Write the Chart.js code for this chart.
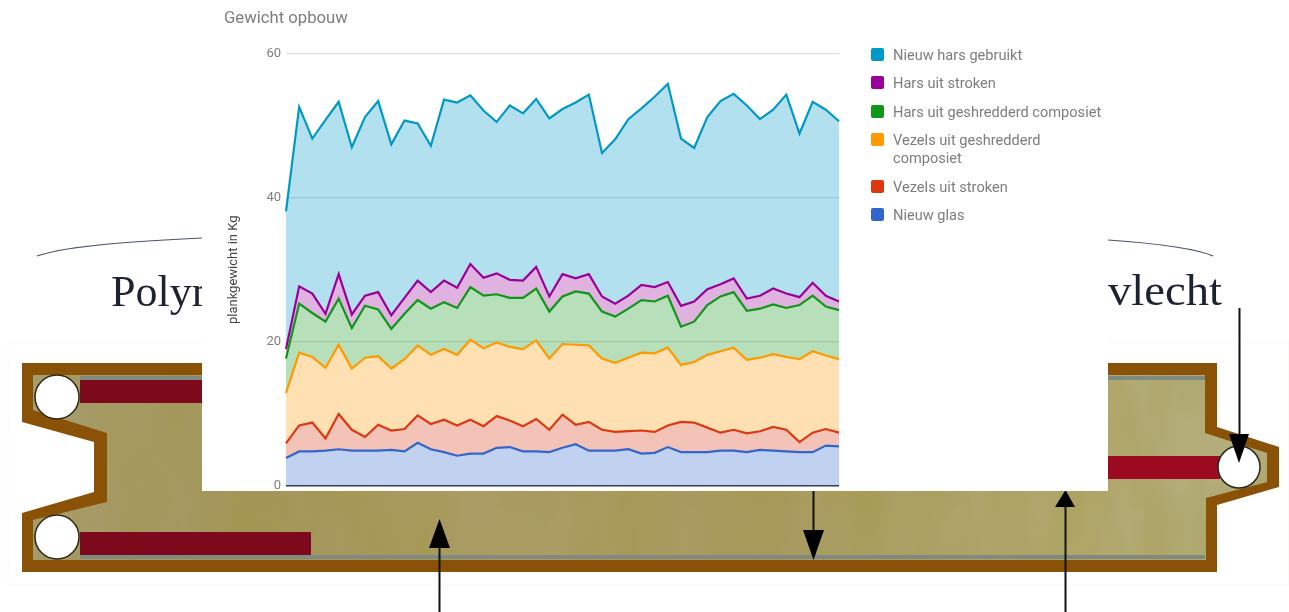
<!DOCTYPE html>
<html>
<head>
<meta charset="utf-8">
<title>Gewicht opbouw</title>
<script src="https://cdn.jsdelivr.net/npm/chart.js@4"></script>
<style>
html, body { margin: 0; padding: 0; background: #fff; overflow: hidden; }
#page { position: relative; width: 1289px; height: 612px; overflow: hidden; filter: blur(0.45px); }
#backdrop { position: absolute; left: 0; top: 0; }
#panel { position: absolute; left: 202px; top: 0; width: 906px; height: 491px; background: #fff; overflow: hidden; }
#legend { position: absolute; left: 669px; top: 46px; width: 233px; font: 14.6px Roboto, sans-serif; color: #7d7d7d; }
#legend div { position: relative; padding-left: 22px; margin-bottom: 10.4px; line-height: 18px; }
#legend i { position: absolute; left: 0; top: 2px; width: 13px; height: 13px; border-radius: 2px; }
</style>
</head>
<body>
<div id="page">
	<svg id="backdrop" width="1289" height="612" xmlns="http://www.w3.org/2000/svg">
		<defs>
			<linearGradient id="wood" x1="0" x2="1" y1="0" y2="0">
				<stop offset="0" stop-color="#a79d6e"/>
				<stop offset="0.2" stop-color="#a5965a"/>
				<stop offset="0.38" stop-color="#ab9d66"/>
				<stop offset="0.6" stop-color="#a89a5e"/>
				<stop offset="0.85" stop-color="#b2a96f"/>
				<stop offset="1" stop-color="#b4ae80"/>
			</linearGradient>
			<filter id="grain" x="0" y="0" width="100%" height="100%">
				<feTurbulence type="fractalNoise" baseFrequency="0.018 0.006" numOctaves="3" seed="4"/>
				<feColorMatrix type="matrix" values="0 0 0 0 0.35  0 0 0 0 0.3  0 0 0 0 0.05  1.6 0 0 0 -0.55"/>
			</filter>
			<clipPath id="woodClip">
				<path d="M33 375 H1205 V433 L1267 453 V482 L1206 498 V560 H33 V520 L107 502 V433 L33 410 Z"/>
			</clipPath>
		</defs>
		<path d="M37 256 C 70 245, 140 241, 202 238" fill="none" stroke="#4a5568" stroke-width="1.2"/>
		<path d="M1108 240 C 1150 243, 1195 248, 1213 256" fill="none" stroke="#4a5568" stroke-width="1.2"/>
		<text x="111" y="306" font-family="'Liberation Serif', serif" font-size="44" fill="#1c2230">Polym</text>
		<text x="1108" y="305" font-family="'Liberation Serif', serif" font-size="44" textLength="114" lengthAdjust="spacingAndGlyphs" fill="#1c2230">vlecht</text>
		<rect x="8" y="341" width="1281" height="244" fill="none" stroke="#f7f7f4"/>
		<path d="M22 363 H1217 V427 L1279 447 V487 L1217 505 V572 H22 V513 L94 492 V442 L22 422 Z" fill="#8a5206"/>
		<path d="M33 375 H1205 V433 L1267 453 V482 L1206 498 V560 H33 V520 L107 502 V433 L33 410 Z" fill="url(#wood)"/>
		<g clip-path="url(#woodClip)"><rect x="33" y="375" width="1234" height="185" filter="url(#grain)" opacity="0.45"/></g>
		<rect x="80" y="376" width="1125" height="4" fill="#7f8a80"/>
		<rect x="80" y="555" width="1125" height="4" fill="#7f8a80"/>
		<rect x="80" y="380" width="130" height="23" fill="#7c0a1c"/>
		<rect x="80" y="532" width="231" height="23" fill="#7c0a1c"/>
		<rect x="1100" y="456" width="120" height="23" fill="#9b0a20"/>
		<circle cx="57" cy="397" r="22" fill="#fff" stroke="#2a2a1a" stroke-width="1.5"/>
		<circle cx="57" cy="537" r="22" fill="#fff" stroke="#2a2a1a" stroke-width="1.5"/>
		<circle cx="1239" cy="467" r="21" fill="#fff" stroke="#2a2a1a" stroke-width="1.5"/>
		<path d="M1239.5 308 V440" stroke="#111" stroke-width="2"/>
		<path d="M1229 434 H1249 L1239 463 Z" fill="#000"/>
		<path d="M439.5 612 V530" stroke="#111" stroke-width="2"/>
		<path d="M429 548 H450 L439.5 519 Z" fill="#000"/>
		<path d="M813.5 490 V540" stroke="#111" stroke-width="2"/>
		<path d="M803 530 H824 L813.5 560 Z" fill="#000"/>
		<path d="M1065.5 612 V500" stroke="#111" stroke-width="2"/>
		<path d="M1055 507 H1075 L1065.5 490 Z" fill="#000"/>
	</svg>
	<div id="panel">
		<canvas id="chart" width="906" height="491"></canvas>
		<div id="legend"></div>
	</div>
</div>
<script>
var categories = [1,2,3,4,5,6,7,8,9,10,11,12,13,14,15,16,17,18,19,20,21,22,23,24,25,26,27,28,29,30,31,32,33,34,35,36,37,38,39,40,41,42,43];

var nieuwGlas = [3.9,4.8,4.8,4.9,5.1,4.9,4.9,4.9,5.0,4.8,6.0,5.1,4.7,4.2,4.5,4.5,5.3,5.4,4.8,4.8,4.7,5.3,5.8,4.9,4.9,4.9,5.1,4.5,4.6,5.4,4.7,4.7,4.7,4.9,4.9,4.7,5.0,4.9,4.8,4.7,4.7,5.6,5.5];
var vezelsStroken = [2.0,3.6,4.0,1.7,4.9,2.9,1.9,3.6,2.7,3.1,3.8,3.5,4.5,4.2,4.7,3.8,4.4,3.7,3.5,4.5,3.1,4.6,2.7,4.0,2.9,2.6,2.5,3.2,2.9,3.0,4.2,4.1,3.4,2.5,2.9,2.6,2.6,3.3,3.0,1.4,2.7,2.3,1.9];
var vezelsComposiet = [7.0,10.1,9.1,9.8,9.6,8.5,11.0,9.5,8.6,9.7,9.7,9.6,9.8,9.8,11.1,10.8,10.2,10.2,10.7,10.9,9.9,9.8,11.1,10.6,9.9,9.6,10.2,10.8,10.9,10.8,7.9,8.4,10.1,11.3,11.4,10.2,10.2,10.1,10.1,11.5,11.3,10.2,10.2];
var harsComposiet = [4.8,6.8,6.1,6.4,6.4,5.6,7.2,6.5,5.5,6.3,6.3,6.4,6.5,6.5,7.3,7.3,6.7,6.8,7.1,7.2,6.5,6.6,7.4,7.2,6.5,6.4,6.8,7.3,7.2,7.2,5.3,5.6,6.9,7.6,7.7,6.8,6.8,6.9,6.8,7.5,7.7,6.8,6.8];
var harsStroken = [1.3,2.4,2.7,1.1,3.4,1.9,1.4,2.4,1.9,2.2,2.7,2.3,3.0,2.8,3.2,2.5,2.9,2.5,2.4,3.0,2.1,3.1,1.8,2.7,2.1,1.8,1.8,2.1,2.0,1.9,2.9,2.8,2.2,1.7,1.9,1.7,1.8,2.2,2.0,1.1,1.8,1.5,1.2];
var nieuwHars = [19.1,24.9,21.5,26.9,23.9,23.2,24.8,26.5,23.7,24.6,21.8,20.3,25.1,25.7,23.4,23.2,21.0,24.2,23.2,23.3,24.7,22.9,24.4,24.9,19.9,22.8,24.5,24.5,26.4,27.5,23.2,21.3,23.9,25.4,25.6,26.8,24.5,24.8,27.6,22.7,25.1,25.8,25.0];

var yTicks = [0, 20, 40, 60];

function area(label, values, color, fill, first) {
	return {
		label: label,
		data: values,
		borderColor: color,
		backgroundColor: fill,
		borderWidth: 2.2,
		pointRadius: 0,
		tension: 0,
		fill: first ? 'origin' : '-1'
	};
}

var chart = new Chart(document.getElementById('chart'), {
	type: 'line',
	data: {
		labels: categories,
		datasets: [
			area('Nieuw glas', nieuwGlas, '#3366cc', 'rgba(51,102,204,0.3)', true),
			area('Vezels uit stroken', vezelsStroken, '#dc3912', 'rgba(220,57,18,0.3)'),
			area('Vezels uit geshredderd composiet', vezelsComposiet, '#ff9900', 'rgba(255,153,0,0.3)'),
			area('Hars uit geshredderd composiet', harsComposiet, '#109618', 'rgba(16,150,24,0.3)'),
			area('Hars uit stroken', harsStroken, '#990099', 'rgba(153,0,153,0.3)'),
			area('Nieuw hars gebruikt', nieuwHars, '#0099c6', 'rgba(0,153,198,0.3)')
		]
	},
	options: {
		responsive: false,
		animation: false,
		layout: { padding: { left: 22, right: 269, top: 0, bottom: 5 } },
		plugins: {
			legend: { display: false },
			tooltip: { enabled: false },
			title: {
				display: true,
				text: 'Gewicht opbouw',
				align: 'start',
				color: '#7d7d7d',
				font: { family: 'Roboto', size: 16.7, weight: 'normal' },
				padding: { top: 9, bottom: 24.5 }
			}
		},
		scales: {
			x: { display: false },
			y: {
				stacked: true,
				min: 0,
				max: 60,
				afterBuildTicks: function(axis) {
					axis.ticks = yTicks.map(function(v) { return { value: v }; });
				},
				afterFit: function(axis) {
					axis.width = 62;
					axis.paddingTop = 0;
					axis.paddingBottom = 0;
				},
				title: {
					display: true,
					text: 'plankgewicht in Kg',
					color: '#444444',
					font: { family: 'Roboto', size: 13 },
					padding: { top: 2, bottom: 0 }
				},
				ticks: {
					color: '#808080',
					padding: 5,
					font: { family: 'Roboto', size: 13 }
				},
				border: { display: false },
				grid: {
					drawTicks: false,
					lineWidth: function(ctx) { return ctx.tick && ctx.tick.value === 0 ? 1.5 : 1.3; },
					color: function(ctx) { return ctx.tick && ctx.tick.value === 0 ? '#333333' : '#dedede'; }
				}
			}
		}
	}
});

// legend is listed top to bottom, the reverse of the stack
var legend = document.getElementById('legend');
chart.data.datasets.slice().reverse().forEach(function(ds) {
	var row = document.createElement('div');
	var box = document.createElement('i');
	box.style.background = ds.borderColor;
	row.appendChild(box);
	row.appendChild(document.createTextNode(ds.label));
	legend.appendChild(row);
});
</script>
</body>
</html>
